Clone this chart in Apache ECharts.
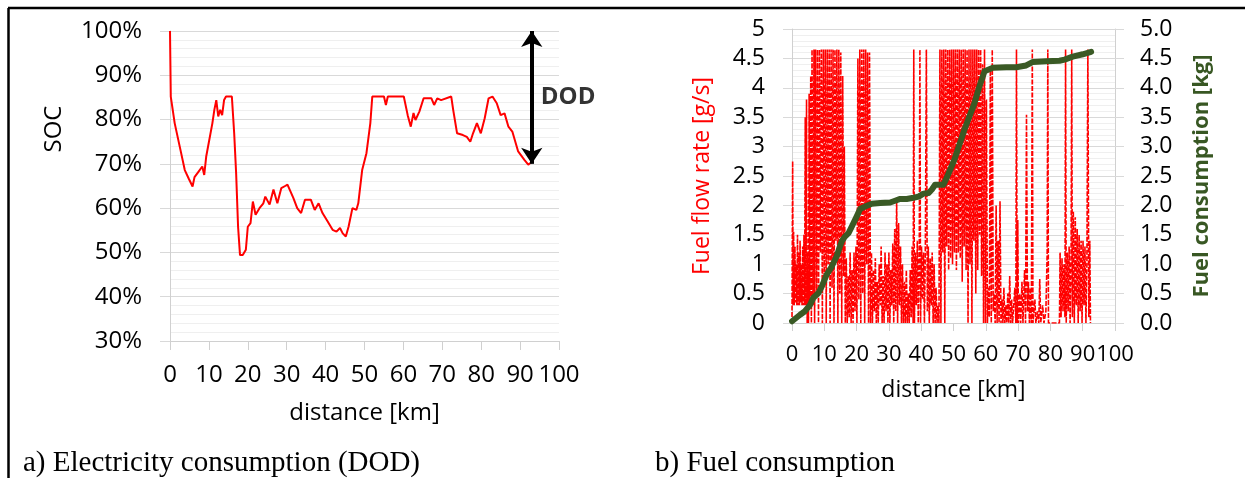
<!DOCTYPE html>
<html>
<head>
<meta charset="utf-8">
<script src="https://cdn.jsdelivr.net/npm/echarts@6/dist/echarts.min.js"></script>
<style>
html,body{margin:0;padding:0;background:#fff;}
#chart{width:1245px;height:478px;}
</style>
</head>
<body>
<div id="chart"></div>
<script>
// ---- Data: SOC (panel a) ----
var socKm  = [0,0.2,1.2,2.7,3.8,4.8,5.8,6.3,7.3,8.3,8.8,9.3,9.8,10.9,11.4,11.9,12.4,12.9,13.4,13.9,14.4,15.9,16.5,17,17.5,18,18.7,19.5,20,20.7,21.3,22,23,24,24.5,25.6,26.6,27.6,28.6,29.6,30.2,31.7,32.7,33.7,34.7,36.2,37.2,38.2,39.2,40.3,41.8,42.8,43.7,44.4,45.2,45.9,46.9,47.9,48.4,49.4,50.5,51.5,52,55,55.5,56,60.1,61.1,61.9,62.6,63.1,64.1,65.2,67.2,67.9,68.7,69.7,72.3,72.8,73.8,75.3,76.3,77.2,77.9,78.9,79.9,80.9,81.9,82.9,84,85,86,87,88,89.5,91.1,92.1,92.6];
var socPct = [100,85.2,79.2,73.1,68.6,66.7,64.9,67,68.2,69.4,67.5,71.6,72,79.2,82.2,84.4,80.7,82.2,81,84.4,85.2,85.2,76.9,67.9,55.8,49.4,49.4,50.6,55.8,56.6,61.5,58.5,60,61.1,62.6,60.8,64.2,61.1,64.5,65,65.3,62.3,60,58.9,61.9,61.9,59.6,61.1,58.9,57.3,55.1,54.7,55.5,54.3,53.6,55.8,60,59.6,61.1,68.6,72.4,79.2,85.2,85.2,83.3,85.2,85.2,81,78.4,81.5,79.9,81.8,84.8,84.8,83.3,84.8,84.4,85.2,82.2,76.9,76.5,76.1,75,76.9,79.2,76.9,80.3,84.8,85.2,83.7,81,81.4,78.4,77.3,72.8,70.9,69.8,70.2];
// DOD arrow (km, top %, bottom %, label %)
var dodKm = 93, dodTop = 100, dodBottom = 70, dodLabelPct = 85;

// ---- Data: fuel flow rate [g/s] (panel b) ----
var flowKm = [0,0.2,0.35,0.5,0.7,0.9,1.1,1.3,1.5,1.7,1.9,2.1,2.3,2.5,2.7,2.9,3.1,3.3,3.5,3.7,3.9,4.1,4.3,4.5,4.7,4.9,5.1,5.3,5.5,5.8,6,6.2,6.5,6.8,7,7.3,7.6,7.9,8.2,8.5,8.8,9.1,9.4,9.7,10,10.3,10.6,10.9,11.2,11.5,11.8,12.1,12.4,12.7,13,13.3,13.6,13.9,14.2,14.5,14.8,15.1,15.4,15.7,16,16.2,16.5,16.8,17.1,17.4,17.7,18,18.3,18.6,18.9,19.2,19.5,19.8,20.1,20.4,20.7,21,21.3,21.6,21.9,22.2,22.5,22.8,23.1,23.4,23.7,24,24.3,24.6,24.9,25.2,25.5,25.8,26.1,26.4,26.7,27,27.3,27.6,27.9,28.2,28.5,28.8,29.1,29.4,29.7,30,30.3,30.6,30.9,31.2,31.5,31.8,32.1,32.4,32.7,33,33.3,33.6,33.9,34.2,34.5,34.8,35.1,35.4,35.7,36,36.3,36.6,36.9,37.2,37.5,37.7,37.9,38.2,38.5,38.8,39.1,39.4,39.6,39.8,40.1,40.4,40.7,41,41.3,41.6,41.9,42.2,42.5,42.8,43.1,43.4,43.7,44,44.3,44.6,44.9,45.2,45.5,45.8,46.1,46.4,46.7,47,47.3,47.6,47.9,48.2,48.5,48.8,49.1,49.4,49.7,50,50.3,50.6,50.9,51.2,51.5,51.8,52.1,52.4,52.7,53,53.3,53.6,53.9,54.2,54.5,54.8,55.1,55.4,55.7,56,56.3,56.6,56.9,57.2,57.5,57.8,58.1,58.4,58.7,59,59.3,59.6,59.9,60.2,60.5,60.8,61.1,61.4,61.7,62,62.3,62.6,62.9,63.2,63.5,63.8,64.1,64.4,64.7,65,65.3,65.6,65.9,66.2,66.5,66.8,67.1,67.4,67.7,68,68.3,69,69.3,69.5,69.7,69.9,70.1,70.5,70.8,71.2,71.5,72,72.3,72.6,72.9,73.2,73.5,73.8,74.1,74.4,74.6,75.2,75.5,76,76.4,76.7,77,77.6,78,78.6,79,79.2,79.4,80,82.8,83,83.3,83.6,83.9,84.2,84.5,84.7,84.9,85.2,85.5,85.8,86.1,86.4,86.6,86.8,87.1,87.4,87.7,88,88.3,88.6,88.9,89.2,89.5,89.8,90.1,90.4,90.7,91,91.3,91.6,91.9,92.2,92.4];
var flowRate = [0.1,2.75,0.3,1.55,0.3,1.3,0.35,1.0,0.3,1.5,0.3,1.2,0.3,1.4,0.35,1.0,0.3,1.3,0.3,1.5,0.3,3.5,0.3,3.8,0,1.2,0,3.9,0.3,4.2,0,4.65,0.3,4.65,0,4.65,0.5,4.65,0,4.65,1.2,4.65,0,4.65,0.8,4.65,0,4.65,1.0,4.65,0,4.65,0.6,4.65,0,4.65,1.4,4.65,0,4.65,0.5,4.6,0,4.2,0.8,3.0,0,1.1,0,0.8,0.1,1.2,0,0.9,0,1.2,0.2,1.3,0,4.5,0.4,4.65,0,4.65,0.5,4.65,0,4.65,1.0,4.6,0,4.6,0,1.2,0,0.9,0.2,1.1,0,0.7,0,1.0,0.3,1.3,0,0.8,0,1.2,0.2,1.0,0,1.2,0,0.9,0.3,1.35,0,1.6,0.2,2.1,0,1.7,0.3,1.3,0,1.0,0,0.7,0,0.9,0,0.5,0,0.9,0.1,1.3,0,4.65,0,1.2,0.3,1.4,0,1.2,4.65,0,1.3,0.4,1.2,0,1.4,4.65,0.2,1.3,0,1.1,0.3,1.2,0,1.0,0,0.6,0,0.3,0,4.65,0,4.65,1.2,4.65,0,4.65,1.3,4.65,0.9,4.65,1.1,4.65,1.0,4.65,1.2,4.65,0.9,4.65,1.2,4.65,1.1,4.65,0.7,4.65,1.3,4.65,0.9,4.65,0,4.65,1.0,4.65,0,4.65,1.4,4.65,0.5,4.65,0.9,4.65,1.5,4.65,0.8,4.4,0,4.65,0,3.8,0,0.6,0.1,4.3,0,4.65,0.2,0.5,0,2.0,0,1.4,0,2.07,0,0.4,0,0.6,0,0.3,0,0.5,0,0.8,0,0.4,0,0.6,0,4.65,0,1.75,0,0.5,0,0.7,0,0.9,0,3.54,0.2,0.7,0,0.6,0,4.65,0,0.4,0,0.2,0,0.75,0,0.3,0,0.2,1.2,4.65,0,0,0,1.2,0.1,1.1,0.2,1.0,0.1,4.65,0,1.2,0.2,1.3,0,1.1,4.65,0.1,1.9,0,1.8,0.3,1.6,0,1.5,0.2,1.4,0,1.4,0.3,1.3,0,1.0,4.65,0.1,1.4,0];

// ---- Data: cumulative fuel consumption [kg] (panel b) ----
var consKm = [0,2.5,4,5.6,6.6,8.2,9.2,10.7,12.3,13.8,15.4,16.4,17.5,18.5,20,21.1,22.6,24.7,27.3,30.4,31.9,33.5,35.5,37.6,39.2,40.7,42.3,43.3,44.3,46.9,47.9,49,50.3,51.8,53.4,54.9,56.5,58,59.6,62.2,66.3,69.4,72.5,74.6,78.7,82.8,84.4,86.9,90,92.6];
var consKg = [0.03,0.14,0.2,0.31,0.43,0.51,0.62,0.82,0.96,1.13,1.39,1.47,1.53,1.64,1.81,1.94,1.98,2.03,2.04,2.05,2.08,2.11,2.11,2.13,2.15,2.2,2.21,2.27,2.35,2.35,2.47,2.61,2.78,3.03,3.29,3.51,3.74,4.02,4.28,4.34,4.35,4.35,4.38,4.44,4.45,4.46,4.48,4.53,4.57,4.61];

function zip(a, b) { return a.map(function (v, i) { return [v, b[i]]; }); }

var FONT = 'Open Sans';
var axisGray = '#d0d0d0';
var majorGrid = '#d9d9d9';
var minorGrid = '#efefef';

var chart = echarts.init(document.getElementById('chart'), null, {renderer: 'canvas'});

var option = {
  animation: false,
  backgroundColor: '#fff',
  textStyle: {fontFamily: FONT, color: '#000'},
  grid: [
    {left: 170, right: 686, top: 31, bottom: 137, containLabel: false, outerBoundsMode: 'none'},
    {left: 792, right: 130, top: 29, bottom: 155, containLabel: false, outerBoundsMode: 'none'}
  ],
  xAxis: [
    {
      gridIndex: 0, type: 'value', min: 0, max: 100, interval: 10,
      name: 'distance [km]', nameLocation: 'middle', nameGap: 60,
      nameTextStyle: {fontFamily: FONT, fontSize: 24, color: '#000'},
      axisLine: {show: true, lineStyle: {color: axisGray, width: 1}},
      axisTick: {show: true, length: 9, lineStyle: {color: axisGray}},
      axisLabel: {fontFamily: FONT, fontSize: 24, color: '#000', margin: 22, hideOverlap: false},
      splitLine: {show: false}
    },
    {
      gridIndex: 1, type: 'value', min: 0, max: 100, interval: 10,
      name: 'distance [km]', nameLocation: 'middle', nameGap: 56,
      nameTextStyle: {fontFamily: FONT, fontSize: 23, color: '#000'},
      axisLine: {show: true, lineStyle: {color: axisGray, width: 1}},
      axisTick: {show: true, length: 8, lineStyle: {color: axisGray}},
      axisLabel: {fontFamily: FONT, fontSize: 22, color: '#000', margin: 21, hideOverlap: false},
      splitLine: {show: false}
    }
  ],
  yAxis: [
    {
      gridIndex: 0, type: 'value', min: 30, max: 100, interval: 10,
      axisLine: {show: true, lineStyle: {color: axisGray, width: 1}},
      axisTick: {show: true, length: 10, lineStyle: {color: majorGrid}},
      axisLabel: {fontFamily: FONT, fontSize: 24, color: '#000', margin: 28, formatter: '{value}%'},
      splitLine: {show: true, lineStyle: {color: majorGrid, width: 1}},
      minorTick: {show: false, splitNumber: 5},
      minorSplitLine: {show: true, lineStyle: {color: minorGrid, width: 1}}
    },
    {
      gridIndex: 1, type: 'value', min: 0, max: 5, interval: 0.5, position: 'left',
      name: 'Fuel flow rate [g/s]', nameLocation: 'middle', nameGap: 78,
      nameTextStyle: {fontFamily: FONT, fontSize: 23, color: '#ff0000'},
      axisLine: {show: true, lineStyle: {color: axisGray, width: 1}},
      axisTick: {show: true, length: 9, lineStyle: {color: majorGrid}},
      axisLabel: {fontFamily: FONT, fontSize: 23, color: '#000', margin: 27},
      splitLine: {show: true, lineStyle: {color: majorGrid, width: 1}},
      minorTick: {show: false, splitNumber: 5},
      minorSplitLine: {show: true, lineStyle: {color: minorGrid, width: 1}}
    },
    {
      gridIndex: 1, type: 'value', min: 0, max: 5, interval: 0.5, position: 'right',
      name: 'Fuel consumption [kg]', nameLocation: 'middle', nameGap: 76,
      nameTextStyle: {fontFamily: FONT, fontSize: 22, fontWeight: 'bold', color: '#385723'},
      axisLine: {show: true, lineStyle: {color: axisGray, width: 1}},
      axisTick: {show: true, length: 9, lineStyle: {color: majorGrid}},
      axisLabel: {fontFamily: FONT, fontSize: 23, color: '#000', margin: 25,
        formatter: function (v) { return v.toFixed(1); }},
      splitLine: {show: false}
    }
  ],
  series: [
    {
      type: 'line', xAxisIndex: 0, yAxisIndex: 0,
      data: zip(socKm, socPct), showSymbol: false, symbol: 'none',
      lineStyle: {color: '#ff0000', width: 2}, z: 3,
      markLine: {
        silent: true, symbol: ['arrow', 'arrow'], symbolSize: [16, 16],
        label: {show: false},
        lineStyle: {color: '#000', width: 4, type: 'solid'},
        data: [[{coord: [dodKm, dodTop]}, {coord: [dodKm, dodBottom]}]]
      }
    },
    {
      type: 'scatter', xAxisIndex: 0, yAxisIndex: 0,
      data: [[dodKm, dodLabelPct]], symbolSize: 0, silent: true,
      label: {show: true, position: 'right', distance: 9, formatter: 'DOD',
        fontFamily: FONT, fontSize: 24, fontWeight: 'bold', color: '#000'}
    },
    {
      type: 'line', xAxisIndex: 1, yAxisIndex: 1,
      data: zip(flowKm, flowRate), showSymbol: false, symbol: 'none',
      lineStyle: {color: '#ff0000', width: 1.6, type: [5, 1.5]}, z: 2
    },
    {
      type: 'line', xAxisIndex: 1, yAxisIndex: 2,
      data: zip(consKm, consKg), showSymbol: false, symbol: 'none',
      lineStyle: {color: '#3a5a25', width: 6, cap: 'round', join: 'round'}, z: 4
    }
  ],
  graphic: [
    {type: 'line', shape: {x1: 8, y1: 8, x2: 1245, y2: 8}, style: {stroke: '#000', lineWidth: 2.5}},
    {type: 'line', shape: {x1: 8.5, y1: 8, x2: 8.5, y2: 478}, style: {stroke: '#000', lineWidth: 2.5}},
    {type: 'text', x: 54, y: 129, rotation: Math.PI / 2,
      style: {text: 'SOC', fontFamily: FONT, fontSize: 24, fill: '#000', align: 'center', verticalAlign: 'middle'}},
    {type: 'text', x: 23, y: 463,
      style: {text: 'a) Electricity consumption (DOD)', fontFamily: 'Liberation Serif', fontSize: 29, fill: '#000', align: 'left', verticalAlign: 'middle'}},
    {type: 'text', x: 655, y: 463,
      style: {text: 'b) Fuel consumption', fontFamily: 'Liberation Serif', fontSize: 29, fill: '#000', align: 'left', verticalAlign: 'middle'}}
  ]
};
chart.setOption(option);
</script>
</body>
</html>
